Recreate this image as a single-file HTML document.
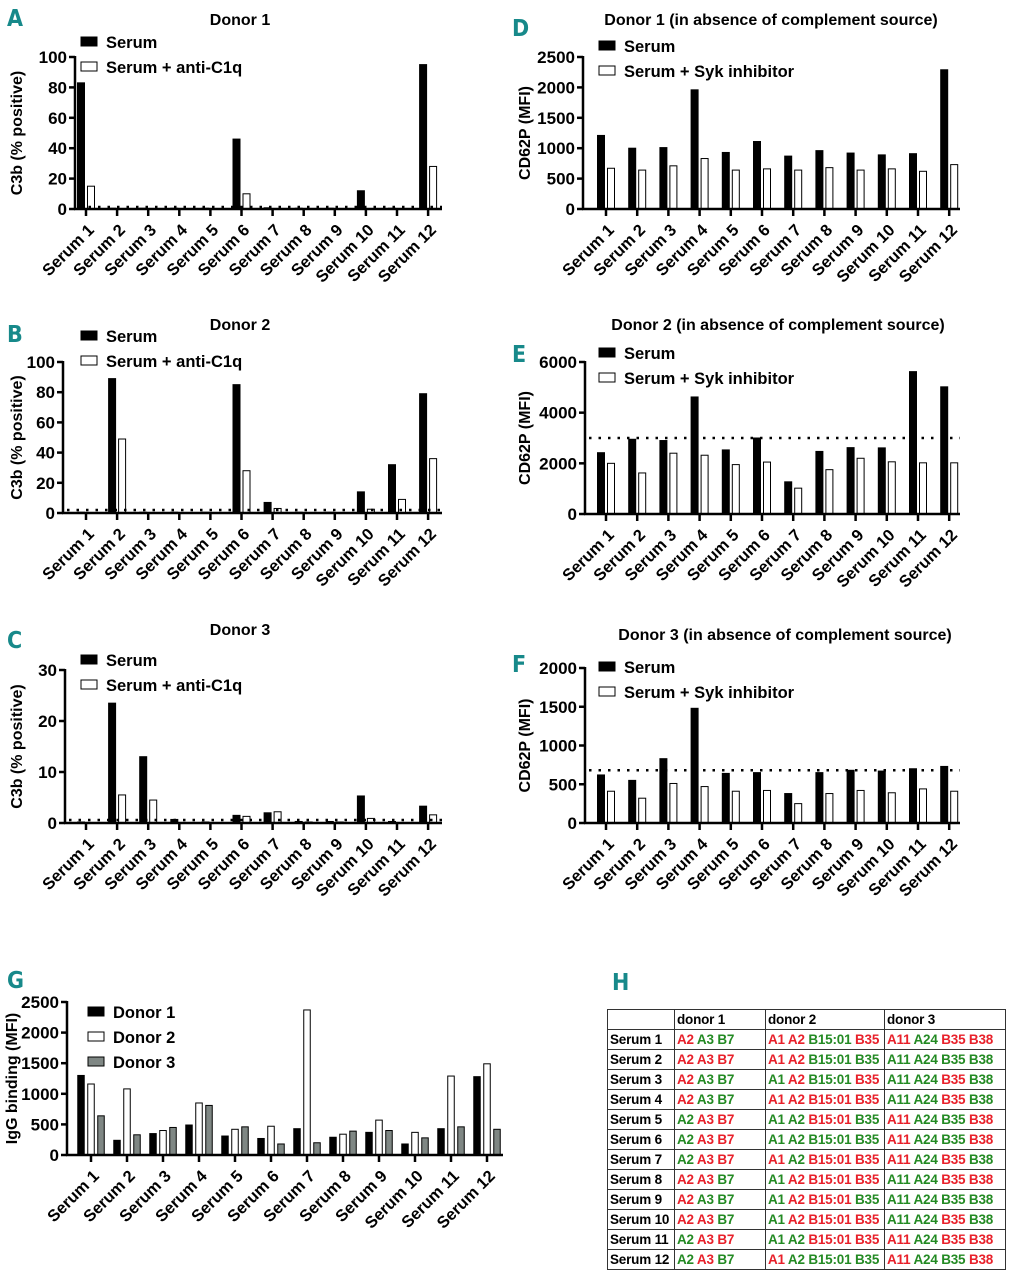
<!DOCTYPE html>
<html><head><meta charset="utf-8">
<style>
body{margin:0;background:#fff;width:1012px;height:1280px;overflow:hidden;position:relative;font-family:"Liberation Sans",Arial,sans-serif}
svg{position:absolute;left:0;top:0}
table{position:absolute;left:607px;top:1009px;width:398px;table-layout:fixed;border-collapse:collapse;font-family:"Liberation Sans",sans-serif;font-weight:bold;font-size:13.5px;letter-spacing:-0.2px}
td{border:1px solid #333;height:19px;padding:0 2px;white-space:nowrap;overflow:hidden}
.r{color:#e8202a}.g{color:#238a23}
</style></head><body>
<svg id="fig" width="1012" height="1280" xmlns="http://www.w3.org/2000/svg"></svg>
<table>
<colgroup><col style="width:67px"><col style="width:91px"><col style="width:119px"><col style="width:121px"></colgroup>
<tr style="height:20px"><td></td><td>donor 1</td><td>donor 2</td><td>donor 3</td></tr>
<tr><td>Serum 1</td><td><span class="r">A2</span> <span class="g">A3 B7</span></td><td><span class="r">A1 A2</span> <span class="g">B15:01</span> <span class="r">B35</span></td><td><span class="r">A11</span> <span class="g">A24</span> <span class="r">B35 B38</span></td></tr>
<tr><td>Serum 2</td><td><span class="r">A2 A3 B7</span></td><td><span class="r">A1 A2</span> <span class="g">B15:01 B35</span></td><td><span class="g">A11 A24 B35 B38</span></td></tr>
<tr><td>Serum 3</td><td><span class="r">A2</span> <span class="g">A3 B7</span></td><td><span class="g">A1</span> <span class="r">A2</span> <span class="g">B15:01</span> <span class="r">B35</span></td><td><span class="g">A11 A24</span> <span class="r">B35</span> <span class="g">B38</span></td></tr>
<tr><td>Serum 4</td><td><span class="r">A2</span> <span class="g">A3 B7</span></td><td><span class="r">A1 A2 B15:01 B35</span></td><td><span class="g">A11 A24</span> <span class="r">B35</span> <span class="g">B38</span></td></tr>
<tr><td>Serum 5</td><td><span class="g">A2</span> <span class="r">A3 B7</span></td><td><span class="g">A1 A2</span> <span class="r">B15:01</span> <span class="g">B35</span></td><td><span class="r">A11</span> <span class="g">A24 B35</span> <span class="r">B38</span></td></tr>
<tr><td>Serum 6</td><td><span class="g">A2</span> <span class="r">A3 B7</span></td><td><span class="g">A1 A2 B15:01 B35</span></td><td><span class="r">A11</span> <span class="g">A24 B35</span> <span class="r">B38</span></td></tr>
<tr><td>Serum 7</td><td><span class="g">A2</span> <span class="r">A3 B7</span></td><td><span class="r">A1</span> <span class="g">A2</span> <span class="r">B15:01 B35</span></td><td><span class="r">A11</span> <span class="g">A24</span> <span class="r">B35</span> <span class="g">B38</span></td></tr>
<tr><td>Serum 8</td><td><span class="r">A2 A3</span> <span class="g">B7</span></td><td><span class="g">A1</span> <span class="r">A2 B15:01 B35</span></td><td><span class="g">A11 A24</span> <span class="r">B35 B38</span></td></tr>
<tr><td>Serum 9</td><td><span class="r">A2</span> <span class="g">A3 B7</span></td><td><span class="g">A1</span> <span class="r">A2 B15:01</span> <span class="g">B35</span></td><td><span class="g">A11 A24 B35 B38</span></td></tr>
<tr><td>Serum 10</td><td><span class="r">A2 A3</span> <span class="g">B7</span></td><td><span class="g">A1</span> <span class="r">A2 B15:01 B35</span></td><td><span class="g">A11 A24</span> <span class="r">B35</span> <span class="g">B38</span></td></tr>
<tr><td>Serum 11</td><td><span class="g">A2</span> <span class="r">A3 B7</span></td><td><span class="g">A1 A2</span> <span class="r">B15:01 B35</span></td><td><span class="r">A11</span> <span class="g">A24</span> <span class="r">B35 B38</span></td></tr>
<tr><td>Serum 12</td><td><span class="g">A2</span> <span class="r">A3</span> <span class="g">B7</span></td><td><span class="r">A1</span> <span class="g">A2 B15:01 B35</span></td><td><span class="r">A11</span> <span class="g">A24 B35</span> <span class="r">B38</span></td></tr>
</table>
<script>
const categories=["Serum 1","Serum 2","Serum 3","Serum 4","Serum 5","Serum 6","Serum 7","Serum 8","Serum 9","Serum 10","Serum 11","Serum 12"];
const aSerum=[83,0.5,0.5,0.5,0.5,46,0.8,0.5,0.5,12,0.5,95];
const aAnti=[15,0,0,0,0,10,0,0,0,0,0,28];
const bSerum=[0.5,89,0.5,0.5,0.5,85,7,0.5,0.5,14,32,79];
const bAnti=[0,49,0,0,0,28,3,0,0,2.5,9,36];
const cSerum=[0.2,23.5,13,0.7,0.2,1.5,2,0.3,0.3,5.3,0.3,3.3];
const cAnti=[0,5.5,4.5,0,0,1.3,2.2,0.2,0.2,0.9,0,1.6];
const dSerum=[1210,1000,1010,1960,930,1110,870,960,920,890,910,2290];
const dSyk=[670,640,710,830,640,660,640,680,640,660,620,730];
const eSerum=[2420,2950,2900,4620,2530,3000,1270,2470,2620,2610,5620,5020];
const eSyk=[2000,1620,2400,2320,1950,2050,1020,1750,2200,2060,2020,2020];
const fSerum=[620,550,830,1480,640,650,380,650,680,670,700,730];
const fSyk=[410,320,510,470,410,420,250,380,420,390,440,410];
const gDonor1=[1300,240,350,490,310,270,430,290,370,180,430,1280];
const gDonor2=[1160,1080,400,850,420,470,2370,340,570,370,1290,1490];
const gDonor3=[640,330,450,810,460,180,200,390,400,280,460,420];
const aTicks=[0,20,40,60,80,100],cTicks=[0,10,20,30],dTicks=[0,500,1000,1500,2000,2500],eTicks=[0,2000,4000,6000],fTicks=[0,500,1000,1500,2000],gTicks=[0,500,1000,1500,2000,2500];
const refA=1.3,refB=2,refC=0.6,refE=3000,refF=680;

const NS="http://www.w3.org/2000/svg";
const svg=document.getElementById('fig');
function mk(tag,attrs,parent,text){const e=document.createElementNS(NS,tag);for(const k in attrs)e.setAttribute(k,attrs[k]);if(text!==undefined)e.textContent=text;(parent||svg).appendChild(e);return e;}

function panel(o){
  const g=mk('g',{});
  
  
  const yS=v=>o.y0-(v/o.max)*(o.y0-o.yTop);
  const xS=i=>o.c0+i*o.step;
  const L=mk('text',{x:o.lx,y:o.ly,'font-size':23,'font-weight':'bold',fill:'#17898a','font-family':'"DejaVu Sans Condensed","Liberation Sans Narrow",sans-serif'},g,o.letter);
  
  
  const T=mk('text',{x:o.tx,y:o.ty,'font-size':16,'font-weight':'bold','text-anchor':'middle'},g,o.title||'');
  
  
  o.series.forEach((s,si)=>{
    s.vals.forEach((v,i)=>{
      const n=o.series.length;
      const x=xS(i)+(si-(n-1)/2)*o.pitch-o.bw/2;
      const y=yS(v);
      const r=mk('rect',{x:x,y:y,width:o.bw,height:Math.max(0,o.y0-y),fill:s.fill,stroke:'#000','stroke-width':1},g);
      
      
    });
  });
  if(o.ref!==undefined){
    const ln=mk('line',{x1:o.ax+4,x2:o.xEnd,y1:yS(o.ref),y2:yS(o.ref),stroke:'#000','stroke-width':2.5,'stroke-dasharray':'2.5 7'},g);
    
    
  }
  const ya=mk('line',{x1:o.ax,x2:o.ax,y1:o.yTop-1,y2:o.y0+1,stroke:'#000','stroke-width':2.5},g);
  
  
  const xa=mk('line',{x1:o.ax-1,x2:o.xEnd,y1:o.y0,y2:o.y0,stroke:'#000','stroke-width':2.5},g);
  
  
  o.ticks.forEach(t=>{
    mk('line',{x1:o.ax-6,x2:o.ax,y1:yS(t),y2:yS(t),stroke:'#000','stroke-width':2.5},g);
    const tl=mk('text',{x:o.ax-8,y:yS(t)+6,'font-size':17,'font-weight':'bold','text-anchor':'end'},g,t);
    
    
  });
  categories.forEach((c,i)=>{
    mk('line',{x1:xS(i),x2:xS(i),y1:o.y0,y2:o.y0+7,stroke:'#000','stroke-width':2.5},g);
    const tl=mk('text',{x:0,y:0,'font-size':16.5,'font-weight':'bold','text-anchor':'end',transform:`translate(${xS(i)+9},${o.y0+22}) rotate(-45)`},g,c);
    
    
  });
  const yt=mk('text',{x:0,y:0,'font-size':16,'font-weight':'bold','text-anchor':'middle',transform:`translate(${o.ytx},${(o.yTop+o.y0)/2}) rotate(-90)`},g,o.ytitle);
  
  
  o.series.forEach((s,si)=>{
    const ly=o.legY+si*o.legStep;
    const lr=mk('rect',{x:o.legX,y:ly-5,width:16,height:9,fill:s.fill,stroke:'#000','stroke-width':1},g);
    
    
    const lt=mk('text',{x:o.legX+25,y:ly+6,'font-size':16.5,'font-weight':'bold'},g,s.label);
    
    
  });
}
const two=(a,b,l2)=>[{vals:a,fill:'#000',label:'Serum',key:'serum'},{vals:b,fill:'#fff',label:l2,key:'treated'}];
const base={step:31.1,bw:7,pitch:10,legStep:25};
panel(Object.assign({},base,{name:'panel-a',letter:'A',lx:7,ly:26,title:'Donor 1',tx:240,ty:25,ax:75,xEnd:442,yTop:57,y0:209,max:100,ticks:aTicks,c0:86,ref:refA,series:two(aSerum,aAnti,'Serum + anti-C1q'),ytx:22,ytitle:'C3b (% positive)',legX:81,legY:42}));
panel(Object.assign({},base,{name:'panel-b',letter:'B',lx:7,ly:342,title:'Donor 2',tx:240,ty:330,ax:63,xEnd:442,yTop:362,y0:513,max:100,ticks:aTicks,c0:86,ref:refB,series:two(bSerum,bAnti,'Serum + anti-C1q'),ytx:22,ytitle:'C3b (% positive)',legX:81,legY:336}));
panel(Object.assign({},base,{name:'panel-c',letter:'C',lx:7,ly:648,title:'Donor 3',tx:240,ty:635,ax:65,xEnd:442,yTop:670,y0:823,max:30,ticks:cTicks,c0:86,ref:refC,series:two(cSerum,cAnti,'Serum + anti-C1q'),ytx:22,ytitle:'C3b (% positive)',legX:81,legY:660}));
panel(Object.assign({},base,{name:'panel-d',letter:'D',lx:512,ly:36,title:'Donor 1 (in absence of complement source)',tx:771,ty:25,ax:583,xEnd:960,yTop:57,y0:209,max:2500,ticks:dTicks,c0:606,step:31.2,series:two(dSerum,dSyk,'Serum + Syk inhibitor'),ytx:530,ytitle:'CD62P (MFI)',legX:599,legY:46}));
panel(Object.assign({},base,{name:'panel-e',letter:'E',lx:512,ly:362,title:'Donor 2 (in absence of complement source)',tx:778,ty:330,ax:585,xEnd:960,yTop:362,y0:514,max:6000,ticks:eTicks,c0:606,step:31.2,ref:refE,series:two(eSerum,eSyk,'Serum + Syk inhibitor'),ytx:530,ytitle:'CD62P (MFI)',legX:599,legY:353}));
panel(Object.assign({},base,{name:'panel-f',letter:'F',lx:512,ly:672,title:'Donor 3 (in absence of complement source)',tx:785,ty:640,ax:585,xEnd:960,yTop:668,y0:823,max:2000,ticks:fTicks,c0:606,step:31.2,ref:refF,series:two(fSerum,fSyk,'Serum + Syk inhibitor'),ytx:530,ytitle:'CD62P (MFI)',legX:599,legY:667}));
panel({name:'panel-g',letter:'G',lx:7,ly:988,title:'',tx:0,ty:0,ax:67,xEnd:503,yTop:1002,y0:1155,max:2500,ticks:gTicks,c0:91,step:36,bw:6.5,pitch:10,legStep:25,
 series:[{vals:gDonor1,fill:'#000',label:'Donor 1',key:'donor1'},{vals:gDonor2,fill:'#fff',label:'Donor 2',key:'donor2'},{vals:gDonor3,fill:'#7f8784',label:'Donor 3',key:'donor3'}],
 ytx:17,ytitle:'IgG binding (MFI)',legX:88,legY:1012});
const H=mk('text',{x:612,y:990,'font-size':23,'font-weight':'bold',fill:'#17898a','font-family':'"DejaVu Sans Condensed",sans-serif'},svg,'H');


</script>
</body></html>
